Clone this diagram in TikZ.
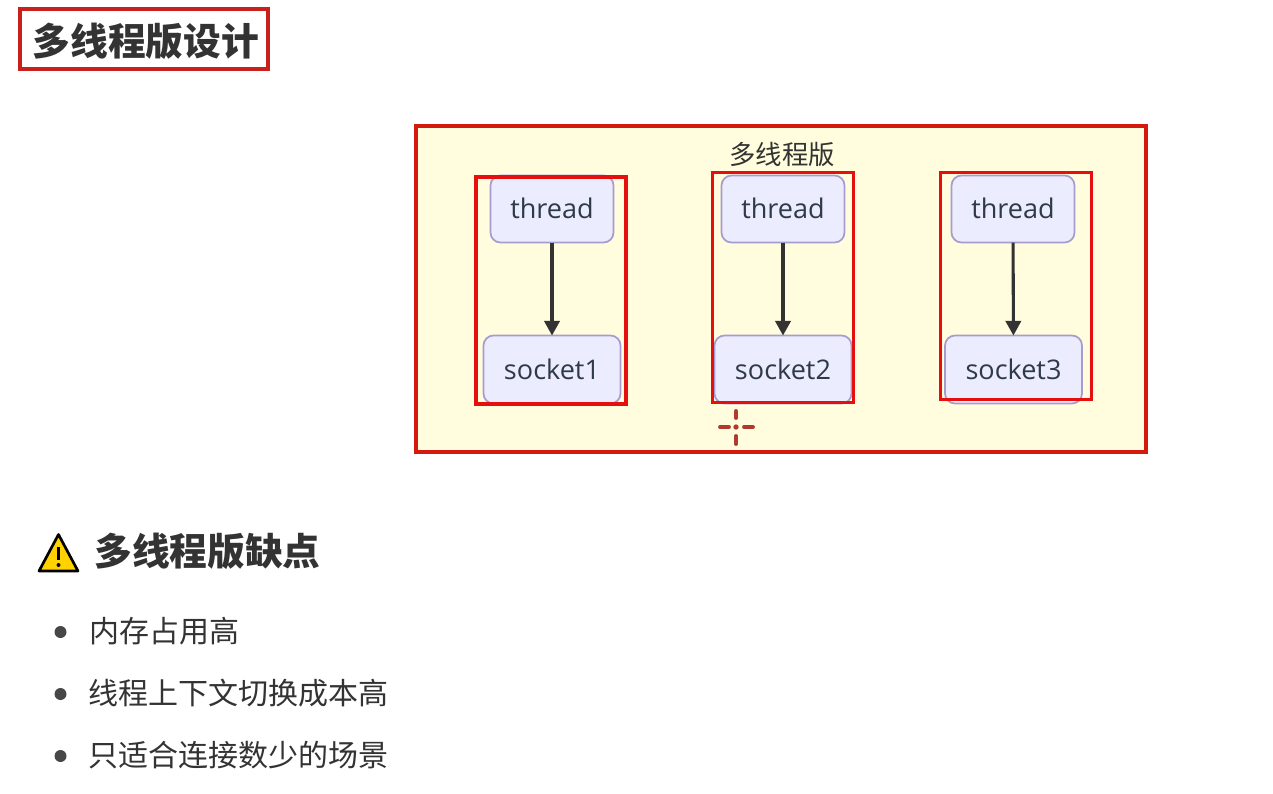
\documentclass[tikz,border=0pt]{standalone}
\usepackage{fontspec}
\setmainfont{Open Sans}
\newfontfamily\cjkfont{Noto Sans CJK SC}
\usetikzlibrary{arrows.meta}
\definecolor{redbox}{HTML}{E60F0F}
\definecolor{darkred}{HTML}{C8201A}
\definecolor{clusterred}{HTML}{D4190F}
\definecolor{clusterfill}{HTML}{FFFDDE}
\definecolor{nodefill}{HTML}{ECECFF}
\definecolor{nodeline}{HTML}{A79CD0}
\definecolor{ink}{HTML}{333333}
\definecolor{labelink}{HTML}{2F3A48}
\definecolor{warnyellow}{HTML}{FFD200}
\definecolor{crossred}{HTML}{B03A30}
\tikzset{
  px/.style={x=0.75pt,y=-0.75pt},
  box/.style={inner sep=0pt,outer sep=0pt,anchor=north west},
  mermaidnode/.style={box,draw=nodeline,fill=nodefill,line width=1.3pt,rounded corners=7.5pt,
     text=labelink,font=\fontsize{20.3pt}{24pt}\selectfont,align=center},
  redframe/.style={box,draw=redbox,line width=2.3pt},
  flow/.style={draw=ink,line width=2.3pt,-{Triangle[length=11pt,width=11.5pt]},shorten >=0pt},
  heading/.style={anchor=west,inner sep=0pt,text=ink,font=\cjkfont\bfseries\fontsize{28.3pt}{32pt}\selectfont},
  itemtext/.style={anchor=west,inner sep=0pt,text=ink,font=\cjkfont\fontsize{22.5pt}{26pt}\selectfont},
  bulletdot/.style={circle,fill=ink!90,inner sep=0pt,outer sep=0pt,minimum size=9pt},
  crossdash/.style={draw=crossred,line width=2.9pt,line cap=round},
}
\begin{document}
\begin{tikzpicture}[px]
\useasboundingbox (0,0) rectangle (1273,793);
\fill[white] (0,0) rectangle (1273,793);

% title
\node[box,draw=darkred,line width=2.3pt,minimum width=186pt,minimum height=45pt] (titlebox) at (20,9) {};
\node[heading] (title) at (32.5,41.5) {多线程版设计};

% cluster
\node[box,draw=clusterred,fill=clusterfill,line width=2.3pt,minimum width=547.5pt,minimum height=244.5pt] (cluster) at (416,126) {};
\node[anchor=center,inner sep=0pt,text=ink,font=\cjkfont\fontsize{19.8pt}{23pt}\selectfont] (clusterlabel) at (782,154.5) {多线程版};

% nodes
\node[mermaidnode,minimum width=92.25pt,minimum height=50.25pt] (t1) at (490.5,175.5) {\raisebox{0.8pt}{thread}};
\node[mermaidnode,minimum width=102.75pt,minimum height=51pt] (s1) at (483.5,335.5) {socket1};
\node[mermaidnode,minimum width=92.25pt,minimum height=50.25pt] (t2) at (721.5,175.5) {\raisebox{0.8pt}{thread}};
\node[mermaidnode,minimum width=102.75pt,minimum height=51pt] (s2) at (714.5,335.5) {socket2};
\node[mermaidnode,minimum width=92.25pt,minimum height=50.25pt] (t3) at (951.5,175.5) {\raisebox{0.8pt}{thread}};
\node[mermaidnode,minimum width=102.75pt,minimum height=51pt] (s3) at (945,335.5) {socket3};

% connectors
\draw[flow] (t1) -- (s1);
\draw[flow] (t2) -- (s2);
\draw[flow] (t3) -- (s3);

% red frames
\node[redframe,minimum width=112.5pt,minimum height=170.25pt] (r1) at (476,177) {};
\node[redframe,minimum width=105.4pt,minimum height=172.2pt] (r2) at (712.5,172.5) {};
\node[redframe,minimum width=113pt,minimum height=170.25pt] (r3) at (940.5,172.5) {};

% cursor
\draw[crossdash] (736,411) -- (736,418);
\draw[crossdash] (736,436) -- (736,444);
\draw[crossdash] (720,427) -- (729,427);
\draw[crossdash] (744,427) -- (753,427);
\fill[crossred] (736,427) circle (2pt);

% warning
\draw[fill=warnyellow,draw=black,line width=2pt,line join=round] (58.5,534.5) -- (78,571) -- (39,571) -- cycle;
\draw[black,line width=2pt] (58.5,547) -- (58.5,560);
\fill[black] (58.5,565) circle (1.5pt);
\node[heading] (warnhead) at (94,551.5) {多线程版缺点};

% list
\node[bulletdot] (b1) at (60.5,632) {};
\node[bulletdot] (b2) at (60.5,694) {};
\node[bulletdot] (b3) at (60.5,756) {};
\node[itemtext] (i1) at (89.5,631) {内存占用高};
\node[itemtext] (i2) at (88,693) {线程上下文切换成本高};
\node[itemtext] (i3) at (88,755) {只适合连接数少的场景};
\end{tikzpicture}
\end{document}
